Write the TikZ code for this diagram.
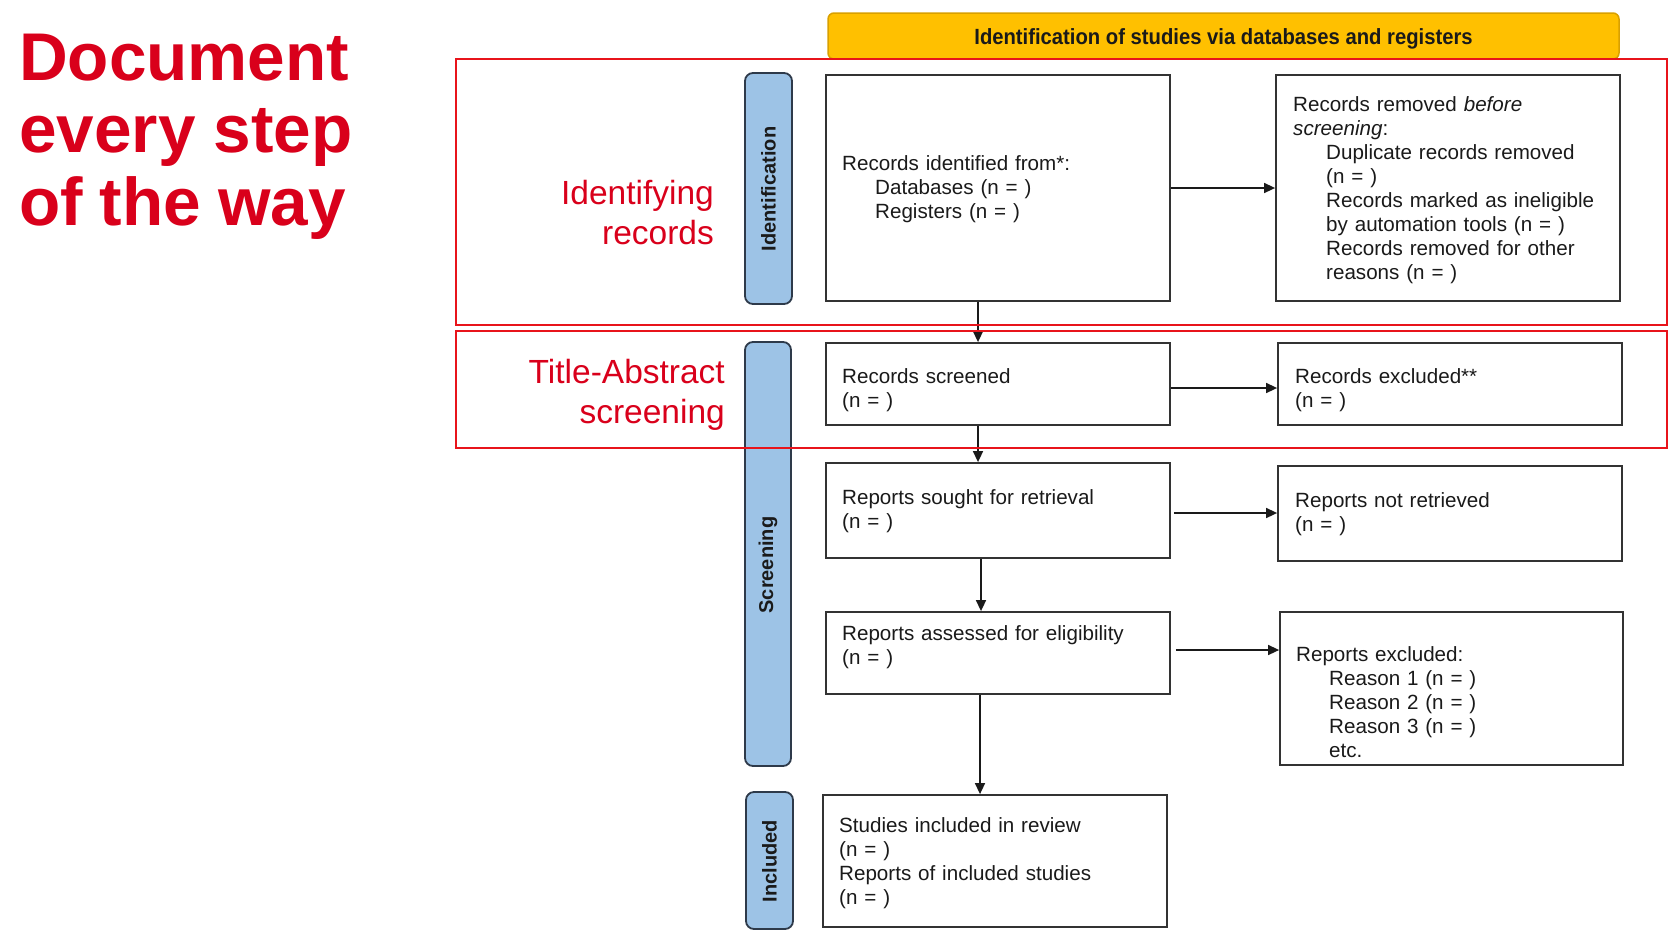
\documentclass[tikz,border=0pt]{standalone}
\usepackage{fontspec}
\setmainfont{Liberation Sans}
\newfontfamily\hdrfont[FakeStretch=0.92]{Liberation Sans}
\usetikzlibrary{arrows.meta}
\definecolor{hdrfill}{HTML}{FFC000}
\definecolor{hdrline}{HTML}{D9A000}
\definecolor{barfill}{HTML}{9DC3E6}
\definecolor{barline}{HTML}{2E3A4A}
\definecolor{redline}{HTML}{E8141B}
\definecolor{redtext}{HTML}{D9001B}
\definecolor{boxline}{HTML}{333333}
\definecolor{ink}{HTML}{1A1A1A}
\tikzset{
  flowbox/.style={draw=boxline, line width=1.8pt, fill=white, inner sep=0pt, minimum width=344pt},
  sidebar/.style={draw=barline, line width=1.8pt, fill=barfill, rounded corners=8pt, inner sep=0pt, minimum width=47pt},
  sidetext/.style={rotate=90, font=\fontsize{20}{24}\selectfont\bfseries, text=ink, inner sep=0pt},
  boxtext/.style={anchor=base west, inner sep=0pt, text width=330pt, align=left, font=\fontsize{20.6}{24}\selectfont, text=ink},
  redframe/.style={draw=redline, line width=2.2pt, inner sep=0pt, minimum width=1211pt},
  redlabel/.style={anchor=base east, inner sep=0pt, text width=260pt, align=right, font=\fontsize{33.5}{40}\selectfont, text=redtext},
  arr/.style={draw=ink, line width=1.5pt, -{Triangle[length=11pt,width=10pt]}}
}
\begin{document}
\begin{tikzpicture}[x=1pt,y=-1pt]
\useasboundingbox (0,0) rectangle (1680,940);
\fill[white] (0,0) rectangle (1680,940);

% title
\node[anchor=base west, inner sep=0pt, text width=400pt, align=left,
      font=\fontsize{67.5}{72.5}\selectfont\bfseries, text=redtext] (title) at (19,80)
  {Document\\every\hspace{18pt}step\\of\hspace{17pt}the\hspace{17pt}way};

% header
\node[draw=hdrline, line width=1.5pt, fill=hdrfill, rounded corners=6pt, minimum width=791pt, minimum height=46pt, inner sep=0pt,
      font=\hdrfont\fontsize{22}{26}\selectfont\bfseries, text=ink] (hdr) at (1223.5,36)
  {\raisebox{-8pt}[0pt][0pt]{Identification of studies via databases and registers}};

% side bars
\node[sidebar, minimum height=231pt] (bid) at (768.5,188.5) {};
\node[sidebar, minimum height=424pt, minimum width=46pt] (bsc) at (768,554) {};
\node[sidebar, minimum height=137pt] (bin) at (769.5,860.5) {};
\node[sidetext] (tid) at (768.5,189) {Identification};
\node[sidetext] (tsc) at (768,565) {Screening};
\node[sidetext] (tin) at (769.5,861) {Included};

% boxes
\node[flowbox, minimum height=226pt] (idf) at (998,188) {};
\node[flowbox, minimum height=226pt] (rem) at (1448,188) {};
\node[flowbox, minimum height=82pt] (scr) at (998,384) {};
\node[flowbox, minimum height=82pt] (exc) at (1450,384) {};
\node[flowbox, minimum height=95pt] (sgt) at (998,510.5) {};
\node[flowbox, minimum height=95pt] (nrt) at (1450,513.5) {};
\node[flowbox, minimum height=82pt] (asd) at (998,653) {};
\node[flowbox, minimum height=153pt, minimum width=343pt] (rex) at (1451.5,688.5) {};
\node[flowbox, minimum height=132pt] (inc) at (995,861) {};

% box texts
\node[boxtext] (t1) at (842,170) {Records identified from*:\\\hspace*{33pt}Databases (n = )\\\hspace*{33pt}Registers (n = )};
\node[boxtext] (t2) at (1293,111) {Records removed \textit{before}\\\textit{screening}:\\\hspace*{33pt}Duplicate records removed\\\hspace*{33pt}(n = )\\\hspace*{33pt}Records marked as ineligible\\\hspace*{33pt}by automation tools (n = )\\\hspace*{33pt}Records removed for other\\\hspace*{33pt}reasons (n = )};
\node[boxtext] (t3) at (842,383) {Records screened\\(n = )};
\node[boxtext] (t4) at (1295,383) {Records excluded**\\(n = )};
\node[boxtext] (t5) at (842,504) {Reports sought for retrieval\\(n = )};
\node[boxtext] (t6) at (1295,507) {Reports not retrieved\\(n = )};
\node[boxtext] (t7) at (842,640) {Reports assessed for eligibility\\(n = )};
\node[boxtext] (t8) at (1296,661) {Reports excluded:\\\hspace*{33pt}Reason 1 (n = )\\\hspace*{33pt}Reason 2 (n = )\\\hspace*{33pt}Reason 3 (n = )\\\hspace*{33pt}etc.};
\node[boxtext] (t9) at (839,832) {Studies included in review\\(n = )\\Reports of included studies\\(n = )};

% connectors
\draw[arr] (idf.east) -- (rem.west);
\draw[arr] ([xshift=-20pt]idf.south) -- ([xshift=-20pt]idf.south |- scr.north);
\draw[arr] ([yshift=-4pt]scr.east) -- ([yshift=-4pt]scr.east -| exc.west);
\draw[arr] ([xshift=-20pt]scr.south) -- ([xshift=-20pt]scr.south |- sgt.north);
\draw[arr] ([yshift=-2.5pt,xshift=3pt]sgt.east) -- ([yshift=-2.5pt]sgt.east -| nrt.west);
\draw[arr] ([xshift=-17pt]sgt.south) -- ([xshift=-17pt]sgt.south |- asd.north);
\draw[arr] ([yshift=3pt,xshift=5pt]asd.east) -- ([yshift=3pt]asd.east -| rex.west);
\draw[arr] ([xshift=-18pt]asd.south) -- ([xshift=-18pt]asd.south |- inc.north);

% red frames and labels
\node[redframe, minimum height=266pt] (r1) at (1061.5,192) {};
\node[redframe, minimum height=117pt] (r2) at (1061.5,389.5) {};
\node[redlabel] (l1) at (714,204) {Identifying\\records};
\node[redlabel] (l2) at (725,383) {Title-Abstract\\screening};
\end{tikzpicture}
\end{document}
